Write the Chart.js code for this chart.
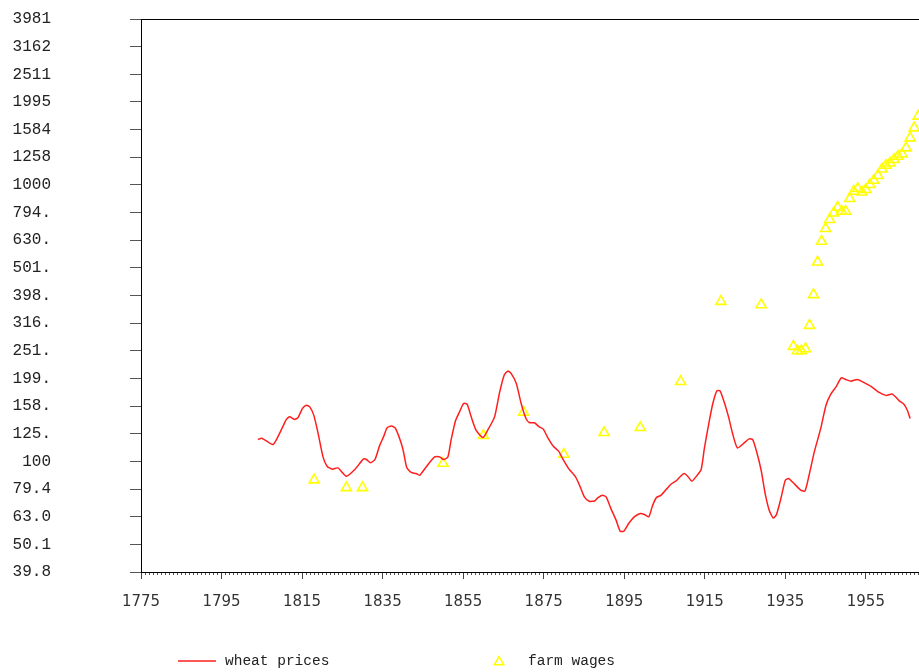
<!DOCTYPE html>
<html><head><meta charset="utf-8">
<script src="https://cdn.jsdelivr.net/npm/chart.js@4"></script>
<style>html,body{margin:0;padding:0;background:#fff;}</style>
</head><body>
<canvas id="c" width="919" height="672"></canvas>
<script>
const seriesNames = ['wheat prices', 'farm wages'];

const wheatYears = [1804.0,1805.0,1807.8,1809.8,1811.1,1811.9,1813.1,1814.0,1815.1,1816.0,
1816.9,1817.9,1818.9,1820.2,1821.2,1822.5,1823.9,1826.0,1828.3,1830.2,
1831.0,1832.0,1833.1,1834.3,1835.3,1836.1,1837.2,1838.2,1840.0,1841.0,
1842.1,1843.3,1844.2,1845.8,1847.9,1849.2,1850.1,1851.2,1852.0,1853.1,
1854.1,1855.1,1856.0,1857.0,1858.2,1859.9,1861.1,1862.8,1864.0,1865.2,
1866.1,1866.9,1868.2,1869.4,1870.6,1871.4,1872.7,1873.9,1874.9,1876.0,
1877.4,1878.7,1879.7,1881.2,1882.9,1883.9,1885.1,1886.3,1887.6,1888.4,
1889.6,1890.5,1891.7,1893.0,1894.0,1894.9,1896.1,1897.5,1899.0,1900.0,
1901.1,1902.0,1903.0,1904.1,1905.4,1906.6,1907.9,1908.7,1909.9,1910.7,
1911.8,1912.8,1914.1,1914.9,1916.0,1917.0,1918.0,1918.8,1919.8,1920.9,
1921.9,1923.1,1924.8,1926.0,1926.9,1927.9,1929.0,1930.0,1931.0,1932.0,
1932.8,1933.9,1935.0,1935.8,1936.9,1938.9,1939.9,1940.9,1942.2,1943.8,
1945.1,1946.3,1947.6,1948.9,1950.0,1951.3,1952.9,1954.2,1956.2,1958.3,
1960.0,1961.6,1963.3,1964.5,1965.3,1966.0];

const wheatPrices = [120.0,121.3,115.1,129.7,141.8,144.9,141.8,144.1,155.4,159.7,
157.5,147.0,127.9,103.8,96.1,93.7,94.7,88.4,94.2,101.9,
101.6,98.8,101.6,114.5,123.4,132.2,134.4,131.6,111.4,95.0,
91.2,90.4,89.1,95.5,103.8,103.8,101.6,103.8,119.4,140.2,
151.1,162.0,160.7,144.9,129.7,122.0,129.7,144.9,176.2,205.2,
212.1,208.1,191.4,162.0,143.0,138.3,137.9,133.3,130.8,122.0,
113.5,108.9,102.4,94.2,87.9,82.0,74.4,71.8,71.9,73.8,
75.4,74.4,67.5,61.2,55.9,55.9,59.6,63.0,64.8,64.3,
63.0,69.0,74.0,75.4,79.1,82.7,85.0,87.5,90.4,88.6,
84.8,87.9,93.5,111.4,137.1,162.0,180.0,180.0,164.2,144.9,
126.2,111.9,116.7,120.6,120.0,108.2,92.9,76.5,66.6,62.4,
64.2,73.4,85.5,86.7,83.9,78.6,78.2,89.1,108.2,131.6,
159.7,175.1,186.1,200.6,197.9,195.1,197.9,194.0,187.2,177.6,
173.3,175.1,165.6,160.7,153.2,143.0];

const wageYears = [1818,1826,1830,1850,1860,1870,1880,1890,1899,1909,1919,1929,
1937,1938,1939,1940,1941,1942,1943,1944,1945,1946,1947,1948,1949,1950,
1951,1952,1953,1954,1955,1956,1957,1958,1959,1960,1961,1962,1963,1964,
1965,1966,1967,1968];

const wageValues = [85.7,80.3,80.3,98.4,124.0,150.6,106.0,127.1,132.5,194.4,378.8,368.5,
260.3,251.1,251.1,255.4,310.1,400.6,525.5,624.6,694.6,748.6,790.9,829.4,802.3,802.3,
892.1,947.7,969.2,942.3,961.3,1002,1038,1080,1141,1177,1199,1234,1269,1293,
1360,1478,1606,1771];

const xTickYears = [1775,1795,1815,1835,1855,1875,1895,1915,1935,1955];
const yTickLabels = ['39.8','50.1','63.0','79.4','100','125.','158.','199.','251.','316.',
'398.','501.','630.','794.','1000','1258','1584','1995','2511','3162','3981'];

const X_MIN = 1775, X_MAX = 1968.2;
const LOG_MIN = 1.6, LOG_STEP = 0.1;

const frameAndLegend = {
  id: 'frameAndLegend',
  afterDraw(chart) {
    const ctx = chart.ctx;
    const a = chart.chartArea;
    ctx.save();
    ctx.strokeStyle = '#000';
    ctx.lineWidth = 1;
    ctx.beginPath();
    ctx.moveTo(a.left, Math.round(a.top) + 0.5);
    ctx.lineTo(a.right, Math.round(a.top) + 0.5);
    ctx.stroke();

    const ds = chart.data.datasets;
    ctx.font = '14.5px "Liberation Mono", monospace';
    ctx.fillStyle = '#222';
    ctx.textBaseline = 'middle';
    ctx.textAlign = 'left';
    ctx.strokeStyle = ds[0].borderColor;
    ctx.lineWidth = 1.5;
    ctx.beginPath();
    ctx.moveTo(178, 661);
    ctx.lineTo(216, 661);
    ctx.stroke();
    ctx.fillText(ds[0].label, 225, 661);

    ctx.strokeStyle = ds[1].borderColor;
    ctx.fillStyle = 'rgba(0,0,0,0)';
    Chart.helpers.drawPoint(ctx, {pointStyle: 'triangle', radius: 5.5, borderWidth: 1.5, rotation: 0}, 499, 662);
    ctx.fillStyle = '#222';
    ctx.fillText(ds[1].label, 528, 661);
    ctx.restore();
  }
};

new Chart(document.getElementById('c'), {
  type: 'scatter',
  data: {
    datasets: [
      {
        label: seriesNames[0],
        data: wheatYears.map((x, i) => ({x, y: wheatPrices[i]})),
        showLine: true,
        borderColor: 'rgb(255,30,30)',
        backgroundColor: 'rgb(255,30,30)',
        borderWidth: 1.5,
        pointRadius: 0,
        tension: 0.2,
        xAxisID: 'x'
      },
      {
        label: seriesNames[1],
        data: wageYears.map((x, i) => ({x, y: wageValues[i]})),
        showLine: false,
        borderColor: '#ffff00',
        backgroundColor: 'rgba(0,0,0,0)',
        pointStyle: 'triangle',
        pointRadius: 5.8,
        pointBorderWidth: 1.6,
        xAxisID: 'x'
      }
    ]
  },
  options: {
    responsive: false,
    devicePixelRatio: 1,
    animation: false,
    layout: {autoPadding: false, padding: {top: 19, right: 0, bottom: 0, left: 0}},
    plugins: {legend: {display: false}, tooltip: {enabled: false}},
    scales: {
      xMinor: {
        type: 'linear', position: 'bottom', weight: 0,
        min: X_MIN, max: X_MAX,
        afterBuildTicks: s => {
          const t = [];
          for (let v = Math.ceil(X_MIN); v <= X_MAX; v++) t.push({value: v});
          s.ticks = t;
        },
        ticks: {display: false, padding: 0},
        grid: {drawOnChartArea: false, tickLength: 3, color: '#555'},
        border: {display: false},
        afterFit: s => { s.height = 0; s.paddingLeft = 0; s.paddingRight = 0; }
      },
      x: {
        type: 'linear', position: 'bottom', weight: 1,
        min: X_MIN, max: X_MAX,
        afterBuildTicks: s => { s.ticks = xTickYears.map(v => ({value: v})); },
        ticks: {
          autoSkip: false, maxRotation: 0, padding: 14,
          font: {family: 'DejaVu Sans', size: 15},
          color: '#333',
          callback: v => String(v)
        },
        grid: {drawOnChartArea: false, tickLength: 7, color: '#444'},
        border: {color: '#000', width: 1},
        afterFit: s => { s.height = 100; s.paddingRight = 0; }
      },
      y: {
        type: 'logarithmic', position: 'left',
        min: Math.pow(10, LOG_MIN), max: Math.pow(10, LOG_MIN + LOG_STEP * (yTickLabels.length - 1)),
        afterBuildTicks: s => {
          s.ticks = yTickLabels.map((l, i) => ({value: Math.pow(10, LOG_MIN + LOG_STEP * i)}));
        },
        ticks: {
          autoSkip: false, padding: 79,
          font: {family: 'Liberation Mono', size: 16},
          color: '#222',
          callback: (v, i) => yTickLabels[i]
        },
        grid: {drawOnChartArea: false, tickLength: 11, color: '#555'},
        border: {color: '#000', width: 1},
        afterFit: s => { s.width = 141; s.paddingTop = 10; s.paddingBottom = 10; }
      }
    }
  },
  plugins: [frameAndLegend]
});
</script>
</body></html>
